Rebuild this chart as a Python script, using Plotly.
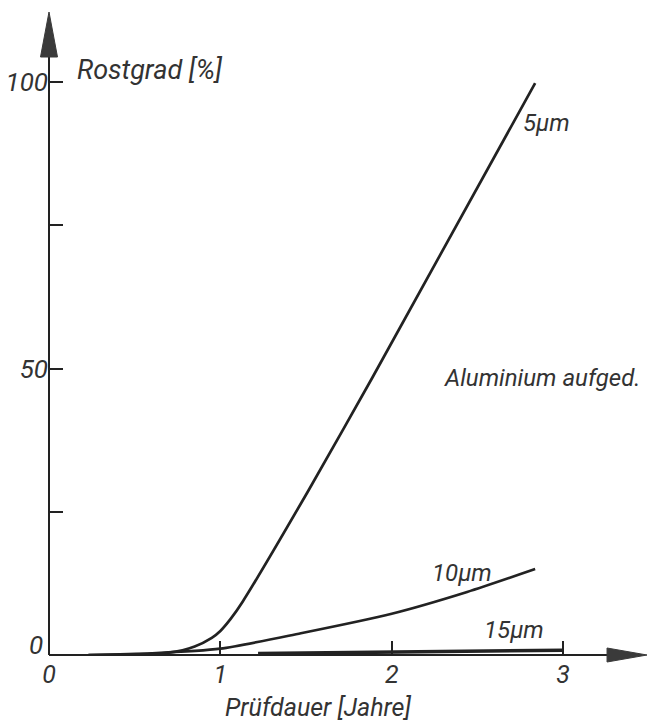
import plotly.graph_objects as go

# ---- data ----
x_5um = [0.23, 0.5, 0.7, 0.85, 0.95, 1.0, 1.06, 1.13, 1.51, 1.885, 2.837]
y_5um = [0.0, 0.1, 0.4, 1.5, 3.0, 4.2, 6.3, 9.3, 28.5, 48.3, 99.8]

x_10um = [0.23, 0.6, 1.0, 1.47, 2.0, 2.44, 2.837]
y_10um = [0.0, 0.3, 1.1, 3.8, 7.2, 11.0, 15.0]

x_15um = [1.22, 2.0, 3.0]
y_15um = [0.25, 0.5, 0.85]

x_ticks = [0, 1, 2, 3]
x_ticklabels = ["0", "1", "2", "3"]
y_ticks = [25, 50, 75, 100]
y_ticklabels = ["", "50", "", "100"]

FONT = "Roboto, Open Sans, DejaVu Sans"
INK = "#222222"
TXT = "#333333"

fig = go.Figure()
fig.add_trace(go.Scatter(x=x_5um, y=y_5um, mode="lines",
                         line=dict(color=INK, width=2.7, shape="spline", smoothing=0.7),
                         name="5 µm", showlegend=False, hoverinfo="skip"))
fig.add_trace(go.Scatter(x=x_10um, y=y_10um, mode="lines",
                         line=dict(color=INK, width=2.7, shape="spline", smoothing=0.7),
                         name="10 µm", showlegend=False, hoverinfo="skip"))
fig.add_trace(go.Scatter(x=x_15um, y=y_15um, mode="lines",
                         line=dict(color=INK, width=3.5),
                         name="15 µm", showlegend=False, hoverinfo="skip"))

# plot area: x=0 at px 48.5, 171.5 px/year, tip of arrow at px 647
# y=0 at px 655, 5.73 px/%, arrow tip at px 12
x_max = (647 - 48.5) / 171.5
y_max = (655 - 12) / 5.73

tickfont = dict(family=FONT, size=26, color=TXT, style="italic")
fig.update_layout(
    width=650, height=721,
    margin=dict(l=48.5, r=3, t=12, b=66, autoexpand=False),
    paper_bgcolor="white", plot_bgcolor="white",
    showlegend=False,
    xaxis=dict(range=[0, x_max], showgrid=False, zeroline=False, automargin=False,
               showline=False, tickmode="array", tickvals=x_ticks,
               ticktext=x_ticklabels, ticks="inside", ticklen=14,
               tickwidth=1.5, tickcolor=INK,
               tickfont=dict(family=FONT, size=25, color=TXT, style="italic"),
               ticklabelstandoff=2),
    yaxis=dict(range=[0, y_max], showgrid=False, zeroline=False, automargin=False,
               showline=False, tickmode="array", tickvals=y_ticks,
               ticktext=y_ticklabels, ticks="inside", ticklen=14,
               tickwidth=1.5, tickcolor=INK, tickfont=tickfont),
)

# axis lines
fig.add_shape(type="line", xref="paper", yref="paper", x0=0, y0=0, x1=0.95, y1=0,
              line=dict(color=INK, width=2))
fig.add_shape(type="line", xref="paper", yref="paper", x0=0, y0=0, x1=0, y1=0.95,
              line=dict(color=INK, width=2))
# arrowheads
pw, ph = 598.5, 643.0
hy = 8.5 / pw
by = (655 - 57) / ph
fig.add_shape(type="path", xref="paper", yref="paper",
              path=f"M 0 1 L {-hy} {by} L {hy} {by} Z",
              fillcolor="#3a3a3a", line=dict(color="#3a3a3a", width=1))
hx = 7.0 / ph
bx = (607 - 48.5) / pw
fig.add_shape(type="path", xref="paper", yref="paper",
              path=f"M 1 0 L {bx} {hx} L {bx} {-hx} Z",
              fillcolor="#3a3a3a", line=dict(color="#3a3a3a", width=1))

def label(text, x, y, size=24, xanchor="left"):
    fig.add_annotation(text=text, x=x, y=y, xref="paper", yref="paper", showarrow=False,
                       xanchor=xanchor, yanchor="middle",
                       font=dict(family=FONT, size=size, color=TXT, style="italic"))

def px(xp, yp):
    return (xp - 48.5) / pw, (655 - yp) / ph

label("Rostgrad [%]", *px(75, 70), size=27)
label("5µm", *px(521, 123))
label("Aluminium aufged.", *px(442, 378), size=24)
label("10µm", *px(430, 573))
label("15µm", *px(482, 630))
label("0", *px(44, 645), size=26, xanchor="right")
label("Prüfdauer [Jahre]", *px(318, 707), size=25, xanchor="center")

fig.write_html("out.html",
               config={"displayModeBar": False},
               post_script="document.body.style.margin='0';document.body.style.overflow='hidden';")
